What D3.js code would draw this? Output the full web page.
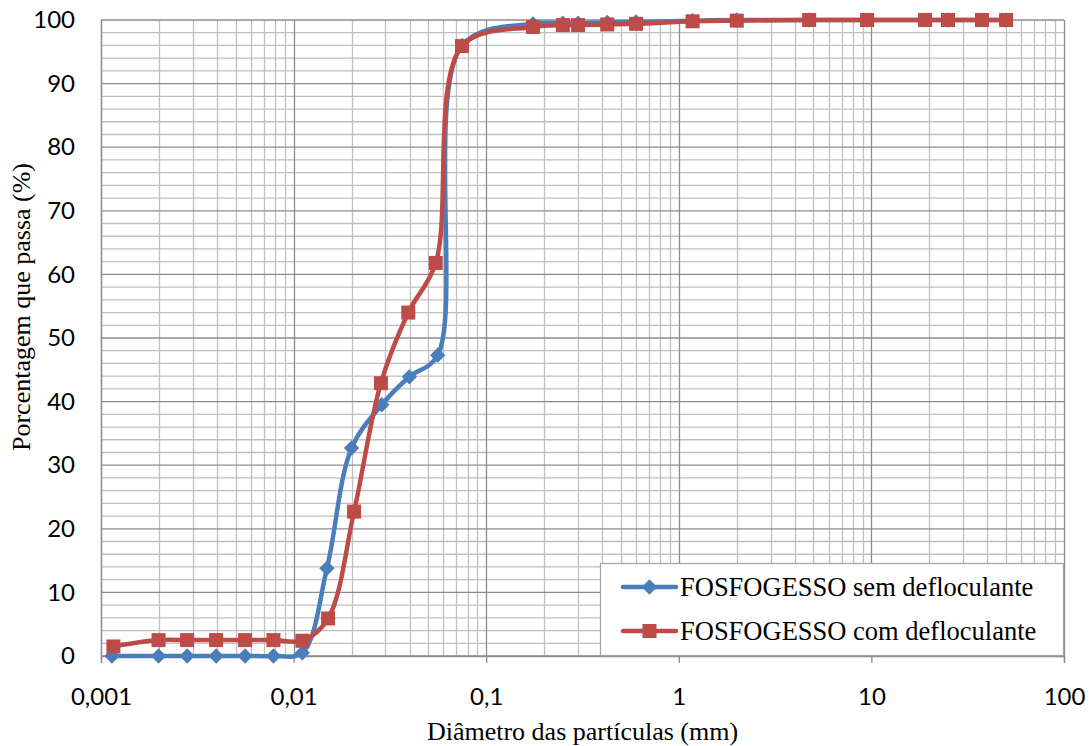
<!DOCTYPE html>
<html>
<head>
<meta charset="utf-8">
<script src="https://cdn.jsdelivr.net/npm/d3@7"></script>
<style>
  html, body { margin: 0; padding: 0; background: #fff; }
  svg { display: block; }
</style>
</head>
<body>
<svg id="chart" width="1091" height="746"></svg>
<script>
// Particle size distribution (granulometria) of phosphogypsum
const diamSem = [0.00114, 0.00199, 0.0028, 0.00396, 0.0056, 0.00786, 0.0111, 0.0149, 0.0200, 0.0287, 0.0399, 0.0560, 0.075, 0.175, 0.25, 0.30, 0.425, 0.60, 1.18, 2.0, 4.75, 9.5, 19, 25, 37.5, 50];
const passSem = [0, 0, 0, 0, 0, 0, 0.5, 13.8, 32.7, 39.5, 43.9, 47.3, 96.0, 99.4, 99.5, 99.5, 99.6, 99.7, 99.9, 100, 100, 100, 100, 100, 100, 100];

const diamCom = [0.00116, 0.00199, 0.0028, 0.00396, 0.0056, 0.00786, 0.0111, 0.0151, 0.0206, 0.0284, 0.0394, 0.0547, 0.0749, 0.175, 0.25, 0.30, 0.425, 0.60, 1.18, 2.0, 4.75, 9.5, 19, 25, 37.5, 50];
const passCom = [1.5, 2.5, 2.5, 2.5, 2.5, 2.5, 2.4, 5.9, 22.7, 42.9, 54.0, 61.8, 95.9, 98.9, 99.2, 99.2, 99.3, 99.4, 99.8, 99.9, 100, 100, 100, 100, 100, 100];

const seriesNames = ["FOSFOGESSO sem defloculante", "FOSFOGESSO com defloculante"];
const xTickValues = [0.001, 0.01, 0.1, 1, 10, 100];
const xTickLabels = ["0,001", "0,01", "0,1", "1", "10", "100"];
const yTickValues = [0, 10, 20, 30, 40, 50, 60, 70, 80, 90, 100];

const svg = d3.select("#chart");
const L = 101, R = 1064, T = 20, B = 656;

const x = d3.scaleLog().domain([0.001, 100]).range([L, R]);
const y = d3.scaleLinear().domain([0, 100]).range([B, T]);

const tickFont = "Lato, 'Open Sans', sans-serif";
const serif = "'Liberation Serif', 'Times New Roman', serif";

// minor gridlines
const g = svg.append("g");
const minorX = [];
for (let e = -3; e < 2; e++) for (let m = 2; m <= 9; m++) minorX.push(m * Math.pow(10, e));
g.selectAll("line.mx").data(minorX).join("line")
  .attr("x1", d => Math.round(x(d)) + 0.5).attr("x2", d => Math.round(x(d)) + 0.5)
  .attr("y1", T).attr("y2", B)
  .attr("stroke", "#bfbfbf").attr("stroke-width", 1.3);
const minorY = d3.range(0, 101, 2).filter(v => v % 10 !== 0);
g.selectAll("line.my").data(minorY).join("line")
  .attr("x1", L).attr("x2", R)
  .attr("y1", d => y(d)).attr("y2", d => y(d))
  .attr("stroke", "#bfbfbf").attr("stroke-width", 1.3);

// major gridlines
g.selectAll("line.Mx").data(xTickValues).join("line")
  .attr("x1", d => Math.round(x(d)) + 0.5).attr("x2", d => Math.round(x(d)) + 0.5)
  .attr("y1", T).attr("y2", B)
  .attr("stroke", "#8c8c8c").attr("stroke-width", 1.3);
g.selectAll("line.My").data(yTickValues).join("line")
  .attr("x1", L).attr("x2", R)
  .attr("y1", d => y(d)).attr("y2", d => y(d))
  .attr("stroke", "#8c8c8c").attr("stroke-width", 1.3);

// axes
const xAxis = d3.axisBottom(x).tickValues(xTickValues)
  .tickFormat((d, i) => xTickLabels[i]).tickSize(7).tickPadding(25);
const yAxis = d3.axisLeft(y).tickValues(yTickValues).tickSize(0).tickPadding(26);

const gx = svg.append("g").attr("transform", `translate(0,${B})`).call(xAxis);
gx.select(".domain").attr("stroke", "#8c8c8c").attr("stroke-width", 1.3);
gx.selectAll(".tick line").attr("stroke", "#8c8c8c").attr("stroke-width", 1.3);
gx.selectAll("text").attr("font-family", tickFont).attr("font-size", 24).attr("fill", "#000");

const gy = svg.append("g").attr("transform", `translate(${L},0)`).call(yAxis);
gy.select(".domain").attr("stroke", "#8c8c8c").attr("stroke-width", 1.3);
gy.selectAll("text").attr("font-family", tickFont).attr("font-size", 24).attr("fill", "#000");

// series
const line = d3.line().x(d => x(d[0])).y(d => y(d[1])).curve(d3.curveCatmullRom.alpha(0.5));
const series = [
  { name: seriesNames[0], pts: d3.zip(diamSem, passSem), color: "#4a7ebb", marker: "diamond" },
  { name: seriesNames[1], pts: d3.zip(diamCom, passCom), color: "#be4b48", marker: "square" }
];
const diamond = d3.symbol().type(d3.symbolDiamond2).size(150);
const square = d3.symbol().type(d3.symbolSquare2).size(250);

series.forEach(s => {
  svg.append("path").attr("d", line(s.pts))
    .attr("fill", "none").attr("stroke", s.color).attr("stroke-width", 4.5)
    .attr("stroke-linejoin", "round").attr("stroke-linecap", "round");
  svg.append("g").selectAll("path").data(s.pts).join("path")
    .attr("transform", d => `translate(${x(d[0])},${y(d[1])})`)
    .attr("d", s.marker === "diamond" ? diamond : square)
    .attr("fill", s.color);
});

// legend
const lg = svg.append("g");
lg.append("rect").attr("x", 600.5).attr("y", 563.5).attr("width", 463).attr("height", 92)
  .attr("fill", "#fff").attr("stroke", "#a6a6a6").attr("stroke-width", 1.3);
series.forEach((s, i) => {
  const cy = 587 + i * 44;
  lg.append("line").attr("x1", 623).attr("x2", 676).attr("y1", cy).attr("y2", cy)
    .attr("stroke", s.color).attr("stroke-width", 4.5).attr("stroke-linecap", "round");
  lg.append("path").attr("transform", `translate(649.5,${cy})`)
    .attr("d", s.marker === "diamond" ? diamond : square).attr("fill", s.color);
  lg.append("text").attr("x", 680).attr("y", cy).attr("dy", "0.33em")
    .attr("font-family", serif).attr("font-size", 26.5).attr("fill", "#000")
    .text(s.name);
});

// axis titles
svg.append("text").attr("x", (L + R) / 2).attr("y", 740)
  .attr("text-anchor", "middle").attr("font-family", serif).attr("font-size", 26)
  .text("Diâmetro das partículas (mm)");
svg.append("text").attr("transform", `translate(30,${(T + B) / 2 - 31}) rotate(-90)`)
  .attr("text-anchor", "middle").attr("font-family", serif).attr("font-size", 26)
  .text("Porcentagem que passa (%)");
</script>
</body>
</html>
